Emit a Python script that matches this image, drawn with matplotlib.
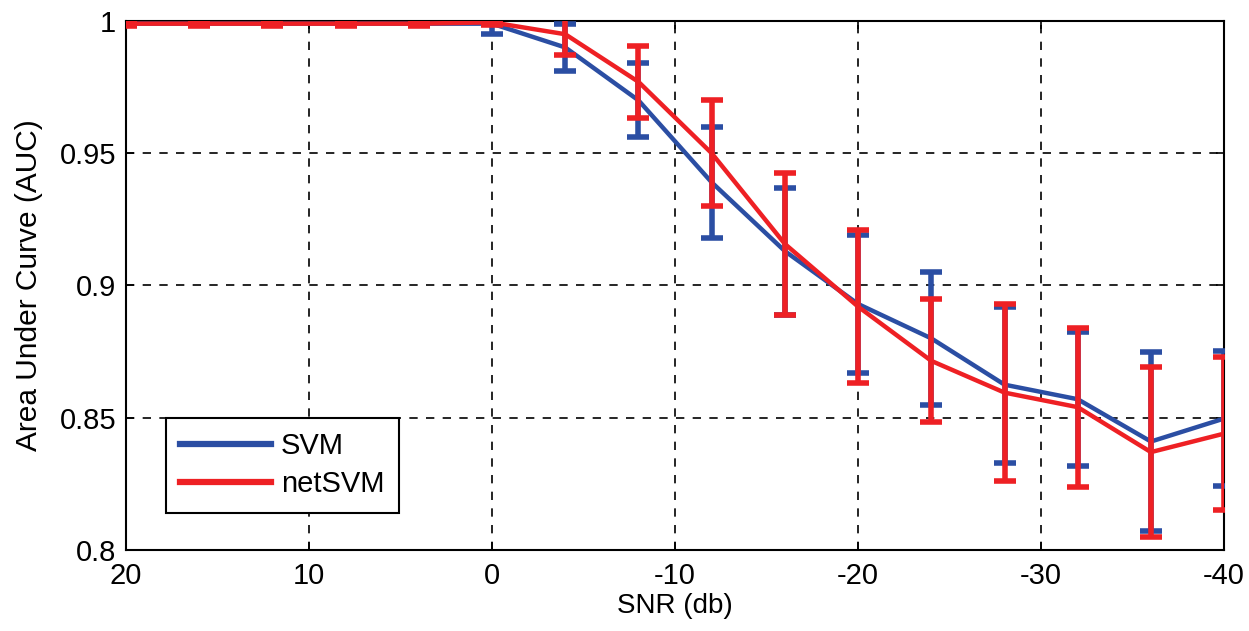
#!/usr/bin/env python3

import matplotlib

matplotlib.use("Agg")
import matplotlib.pyplot as plt

OUT_PATH = "out.png"

# SNR levels (db) and AUC
snr = [20, 16, 12, 8, 4, 0, -4, -8, -12, -16, -20, -24, -28, -32, -36, -40]

svm_auc = [0.999, 0.999, 0.999, 0.999, 0.999, 0.999, 0.990, 0.970, 0.939, 0.913,
           0.893, 0.880, 0.8625, 0.857, 0.841, 0.8497]
svm_err = [0.0, 0.0, 0.0, 0.0, 0.0, 0.004, 0.009, 0.014, 0.021, 0.024,
           0.026, 0.025, 0.0295, 0.0254, 0.034, 0.0256]

netsvm_auc = [0.999, 0.999, 0.999, 0.999, 0.999, 0.9995, 0.995, 0.977, 0.950, 0.9157,
              0.892, 0.8715, 0.8595, 0.854, 0.837, 0.844]
netsvm_err = [0.001, 0.001, 0.001, 0.001, 0.001, 0.001, 0.008, 0.0135, 0.020, 0.027,
              0.029, 0.0233, 0.0335, 0.030, 0.032, 0.029]

x_ticks = [20, 10, 0, -10, -20, -30, -40]
y_ticks = [0.8, 0.85, 0.9, 0.95, 1.0]
y_tick_labels = ["0.8", "0.85", "0.9", "0.95", "1"]

BLUE = "#2b4ea3"
RED = "#ee2024"


def main() -> int:
    plt.rcParams["font.family"] = ["Liberation Sans", "DejaVu Sans"]
    plt.rcParams["axes.unicode_minus"] = False

    fig = plt.figure(figsize=(12.49, 6.31), dpi=100)
    ax = fig.add_axes([0.1009, 0.1284, 0.8792, 0.8383])

    ax.errorbar(snr, svm_auc, yerr=svm_err, color=BLUE, lw=3.2, elinewidth=4,
                capsize=8, capthick=4, label="SVM", zorder=3)
    ax.errorbar(snr, netsvm_auc, yerr=netsvm_err, color=RED, lw=3.2, elinewidth=4,
                capsize=8, capthick=4, label="netSVM", zorder=4)

    ax.set_xlim(20, -40)
    ax.set_ylim(0.8, 1.0)
    ax.set_xticks(x_ticks)
    ax.set_xticklabels([str(t) for t in x_ticks])
    ax.set_yticks(y_ticks)
    ax.set_yticklabels(y_tick_labels)
    ax.tick_params(direction="in", length=6, width=1.2, labelsize=21,
                   top=True, right=True)
    ax.tick_params(axis="x", pad=9)
    ax.tick_params(axis="y", pad=7)

    ax.grid(True, color="black", linestyle=(0, (5, 5)), linewidth=1.2)
    for spine in ax.spines.values():
        spine.set_linewidth(1.5)

    ax.set_xlabel("SNR (db)", fontsize=20, labelpad=2)
    ax.set_ylabel("Area Under Curve (AUC)", fontsize=21.5)
    ax.yaxis.set_label_coords(-0.076, 0.5)

    handles = [
        plt.Line2D([0], [0], color=BLUE, lw=4.5),
        plt.Line2D([0], [0], color=RED, lw=4.5),
    ]
    leg = ax.legend(handles, ["SVM", "netSVM"], loc="lower left",
                    bbox_to_anchor=(0.036, 0.07), borderaxespad=0, fontsize=21,
                    fancybox=False, framealpha=1, edgecolor="black",
                    handlelength=3.1, handletextpad=0.35, borderpad=0.5,
                    labelspacing=0.35)
    leg.get_frame().set_linewidth(1.5)

    fig.savefig(OUT_PATH, dpi=100)
    plt.close(fig)
    return 0


if __name__ == "__main__":
    raise SystemExit(main())
